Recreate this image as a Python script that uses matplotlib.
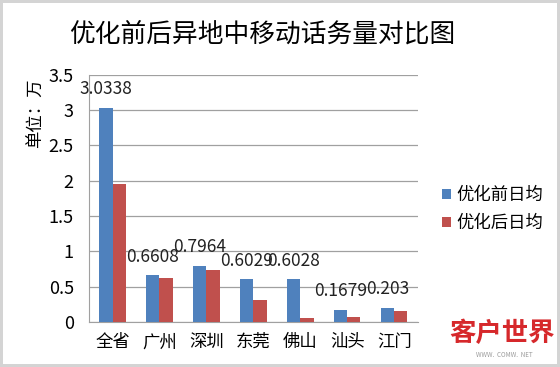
import matplotlib
matplotlib.use("Agg")
import matplotlib.pyplot as plt
import numpy as np

plt.rcParams['font.family'] = ['Noto Sans CJK SC', 'DejaVu Sans']

cities = ["全省", "广州", "深圳", "东莞", "佛山", "汕头", "江门"]
before = [3.0338, 0.6608, 0.7964, 0.6029, 0.6028, 0.1679, 0.203]
after = [1.96, 0.63, 0.74, 0.31, 0.06, 0.07, 0.15]
before_labels = ["3.0338", "0.6608", "0.7964", "0.6029", "0.6028", "0.1679", "0.203"]
series_names = ["优化前日均", "优化后日均"]

fig = plt.figure(figsize=(5.6, 3.67), dpi=100, edgecolor="#d4d4d4", linewidth=4)
ax = fig.add_axes([0.159, 0.1226, 0.587, 0.6734])

x = np.arange(len(cities))
w = 0.28
b1 = ax.bar(x - w / 2, before, w, color="#4F81BD", label=series_names[0], zorder=3)
b2 = ax.bar(x + w / 2, after, w, color="#C0504D", label=series_names[1], zorder=3)

# data labels only for the "before" series, as in the original
for xi, v, s in zip(x, before, before_labels):
    ax.annotate(s, (xi - w / 2, v), xytext=(0, 7), textcoords="offset points",
                ha="center", va="bottom", fontsize=12.5, color="#222222")

ax.set_ylim(0, 3.5)
ax.set_xlim(-0.5, len(cities) - 0.5)
ax.set_yticks(np.arange(0, 3.51, 0.5))
ax.set_yticklabels(["0", "0.5", "1", "1.5", "2", "2.5", "3", "3.5"])
ax.set_xticks(x)
ax.set_xticklabels(cities, fontsize=12.5)
ax.tick_params(axis="y", length=0, labelsize=13, pad=11)
ax.tick_params(axis="x", length=0, pad=8)
ax.grid(axis="y", color="#a0a0a0", linewidth=0.9, zorder=0)
for side in ["top", "right"]:
    ax.spines[side].set_visible(False)
ax.spines["left"].set_color("#a0a0a0")
ax.spines["bottom"].set_color("#a0a0a0")

ax.set_ylabel("单位：万", fontsize=12.5)
ax.yaxis.set_label_coords(-0.135, 0.845)

fig.text(0.468, 0.905, "优化前后异地中移动话务量对比图", ha="center", va="center", fontsize=18.5)

fig.legend(handles=[b1, b2], loc="center left", bbox_to_anchor=(0.79, 0.43),
           frameon=False, fontsize=12.5, handlelength=0.5, handleheight=0.5,
           handletextpad=0.3, labelspacing=0.55, borderpad=0, borderaxespad=0)

# watermark
fig.text(0.896, 0.09, "客户世界", ha="center", va="center", fontsize=19,
         color="#d6282b", weight="heavy")
fig.text(0.9, 0.033, "WWW.  COMW.  NET", ha="center", va="center", fontsize=4.5,
         color="#9a9a9a")

fig.savefig("out.png", dpi=100, edgecolor=fig.get_edgecolor())
